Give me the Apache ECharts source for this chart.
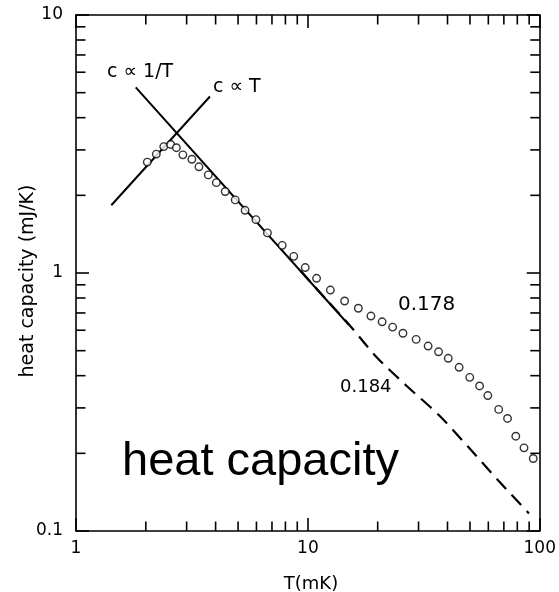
<!DOCTYPE html>
<html>
<head>
<meta charset="utf-8">
<script src="https://cdn.jsdelivr.net/npm/echarts@6/dist/echarts.min.js"></script>
<style>html,body{margin:0;padding:0;background:#fff;}#chart{width:559px;height:592px;}</style>
</head>
<body>
<div id="chart"></div>
<script>
// measured heat capacity (open circles)
const tempK = [2.03, 2.22, 2.39, 2.56, 2.71, 2.89, 3.16, 3.39, 3.72, 4.03, 4.40, 4.86, 5.36, 5.97, 6.69, 7.75, 8.69, 9.74, 10.9, 12.5, 14.4, 16.5, 18.7, 20.9, 23.2, 25.7, 29.3, 33.0, 36.6, 40.3, 44.9, 49.9, 55.0, 59.7, 66.5, 72.6, 78.8, 85.5, 93.7];
const heatCap = [2.69, 2.89, 3.09, 3.15, 3.06, 2.87, 2.76, 2.58, 2.40, 2.24, 2.07, 1.92, 1.75, 1.61, 1.43, 1.28, 1.16, 1.05, 0.954, 0.859, 0.779, 0.730, 0.681, 0.647, 0.617, 0.584, 0.553, 0.521, 0.495, 0.467, 0.431, 0.394, 0.365, 0.335, 0.296, 0.273, 0.233, 0.210, 0.191];
// dashed curve (0.184)
const dashT = [9.3, 12, 15.1, 19.7, 26.4, 36.6, 49.1, 65.8, 89.8];
const dashC = [1.02, 0.79, 0.629, 0.474, 0.368, 0.282, 0.212, 0.158, 0.117];
// c ∝ T line
const linT = [1.42, 3.78];
const linC = [1.83, 4.83];
// c ∝ 1/T line
const invT = [1.81, 15.0];
const invC = [5.24, 0.63];
// axis ranges and minor ticks
const xRange = [1, 100];
const yRange = [0.1, 10];
const xMinorTicks = [2, 3, 4, 5, 6, 7, 8, 9, 20, 30, 40, 50, 60, 70, 80, 90];
const yMinorTicks = [0.2, 0.3, 0.4, 0.5, 0.6, 0.7, 0.8, 0.9, 2, 3, 4, 5, 6, 7, 8, 9];

const zip = (a, b) => a.map((v, i) => [v, b[i]]);
const MINOR = 9.5, MAJOR = 13, AXW = 1.6;
const tickFont = '"DejaVu Sans", sans-serif';

const chart = echarts.init(document.getElementById('chart'), null, {renderer: 'canvas'});

const axisBase = {
  type: 'log', logBase: 10,
  axisLine: {show: true, onZero: false, lineStyle: {color: '#000', width: AXW}},
  axisTick: {show: true, inside: true, length: MAJOR, lineStyle: {color: '#000', width: AXW}},
  splitLine: {show: false},
  minorTick: {show: false}
};

chart.setOption({
  animation: false,
  backgroundColor: '#fff',
  grid: {left: 76, right: 13, top: 15, bottom: 61, containLabel: false},
  xAxis: [
    Object.assign({}, axisBase, {
      min: xRange[0], max: xRange[1], position: 'bottom',
      axisLabel: {show: true, color: '#000', fontSize: 17, fontFamily: tickFont, margin: 9}
    }),
    Object.assign({}, axisBase, {
      min: xRange[0], max: xRange[1], position: 'top',
      axisLabel: {show: false}
    })
  ],
  yAxis: [
    Object.assign({}, axisBase, {
      min: yRange[0], max: yRange[1], position: 'left',
      axisLabel: {show: true, color: '#000', fontSize: 17, fontFamily: tickFont, margin: 13}
    }),
    Object.assign({}, axisBase, {
      min: yRange[0], max: yRange[1], position: 'right',
      axisLabel: {show: false}
    })
  ],
  series: [
    {
      type: 'custom', name: 'xMinor', coordinateSystem: 'cartesian2d', clip: false, silent: true,
      data: xMinorTicks.map(v => [v, yRange[0]]),
      renderItem: function (params, api) {
        const v = api.value(0);
        const b = api.coord([v, yRange[0]]);
        const t = api.coord([v, yRange[1]]);
        const st = {stroke: '#000', lineWidth: AXW};
        return {type: 'group', children: [
          {type: 'line', shape: {x1: b[0], y1: b[1], x2: b[0], y2: b[1] - MINOR}, style: st},
          {type: 'line', shape: {x1: t[0], y1: t[1], x2: t[0], y2: t[1] + MINOR}, style: st}
        ]};
      }
    },
    {
      type: 'custom', name: 'yMinor', coordinateSystem: 'cartesian2d', clip: false, silent: true,
      data: yMinorTicks.map(v => [xRange[0], v]),
      renderItem: function (params, api) {
        const v = api.value(1);
        const l = api.coord([xRange[0], v]);
        const r = api.coord([xRange[1], v]);
        const st = {stroke: '#000', lineWidth: AXW};
        return {type: 'group', children: [
          {type: 'line', shape: {x1: l[0], y1: l[1], x2: l[0] + MINOR, y2: l[1]}, style: st},
          {type: 'line', shape: {x1: r[0], y1: r[1], x2: r[0] - MINOR, y2: r[1]}, style: st}
        ]};
      }
    },
    {
      type: 'line', name: 'c ∝ T', data: zip(linT, linC), showSymbol: false, symbol: 'none',
      lineStyle: {color: '#000', width: 2}, z: 2
    },
    {
      type: 'line', name: 'c ∝ 1/T', data: zip(invT, invC), showSymbol: false, symbol: 'none',
      lineStyle: {color: '#000', width: 2}, z: 2
    },
    {
      type: 'line', name: '0.184', data: zip(dashT, dashC), showSymbol: false, symbol: 'none',
      smooth: 0.3,
      lineStyle: {color: '#000', width: 2.2, type: [14, 8]}, z: 2
    },
    {
      type: 'scatter', name: '0.178', data: zip(tempK, heatCap), symbol: 'circle', symbolSize: 7.5,
      itemStyle: {color: '#fff', borderColor: '#000', borderWidth: 1.4}, z: 5
    }
  ],
  graphic: [
    {type: 'text', x: 107, y: 72, style: {text: 'c ∝ 1/T', font: '19px "DejaVu Sans"', fill: '#000', align: 'left', verticalAlign: 'middle'}},
    {type: 'text', x: 213, y: 87, style: {text: 'c ∝ T', font: '19px "DejaVu Sans"', fill: '#000', align: 'left', verticalAlign: 'middle'}},
    {type: 'text', x: 398, y: 305, style: {text: '0.178', font: '20px "DejaVu Sans"', fill: '#000', align: 'left', verticalAlign: 'middle'}},
    {type: 'text', x: 340, y: 387, style: {text: '0.184', font: '18px "DejaVu Sans"', fill: '#000', align: 'left', verticalAlign: 'middle'}},
    {type: 'text', x: 122, y: 462, style: {text: 'heat capacity', font: '47px "Liberation Sans"', fill: '#000', align: 'left', verticalAlign: 'middle'}},
    {type: 'text', x: 28, y: 281, rotation: Math.PI / 2, style: {text: 'heat capacity (mJ/K)', font: '19px "DejaVu Sans"', fill: '#000', align: 'center', verticalAlign: 'middle'}},
    {type: 'text', x: 311, y: 584, style: {text: 'T(mK)', font: '18px "DejaVu Sans"', fill: '#000', align: 'center', verticalAlign: 'middle'}}
  ]
});
</script>
</body>
</html>
